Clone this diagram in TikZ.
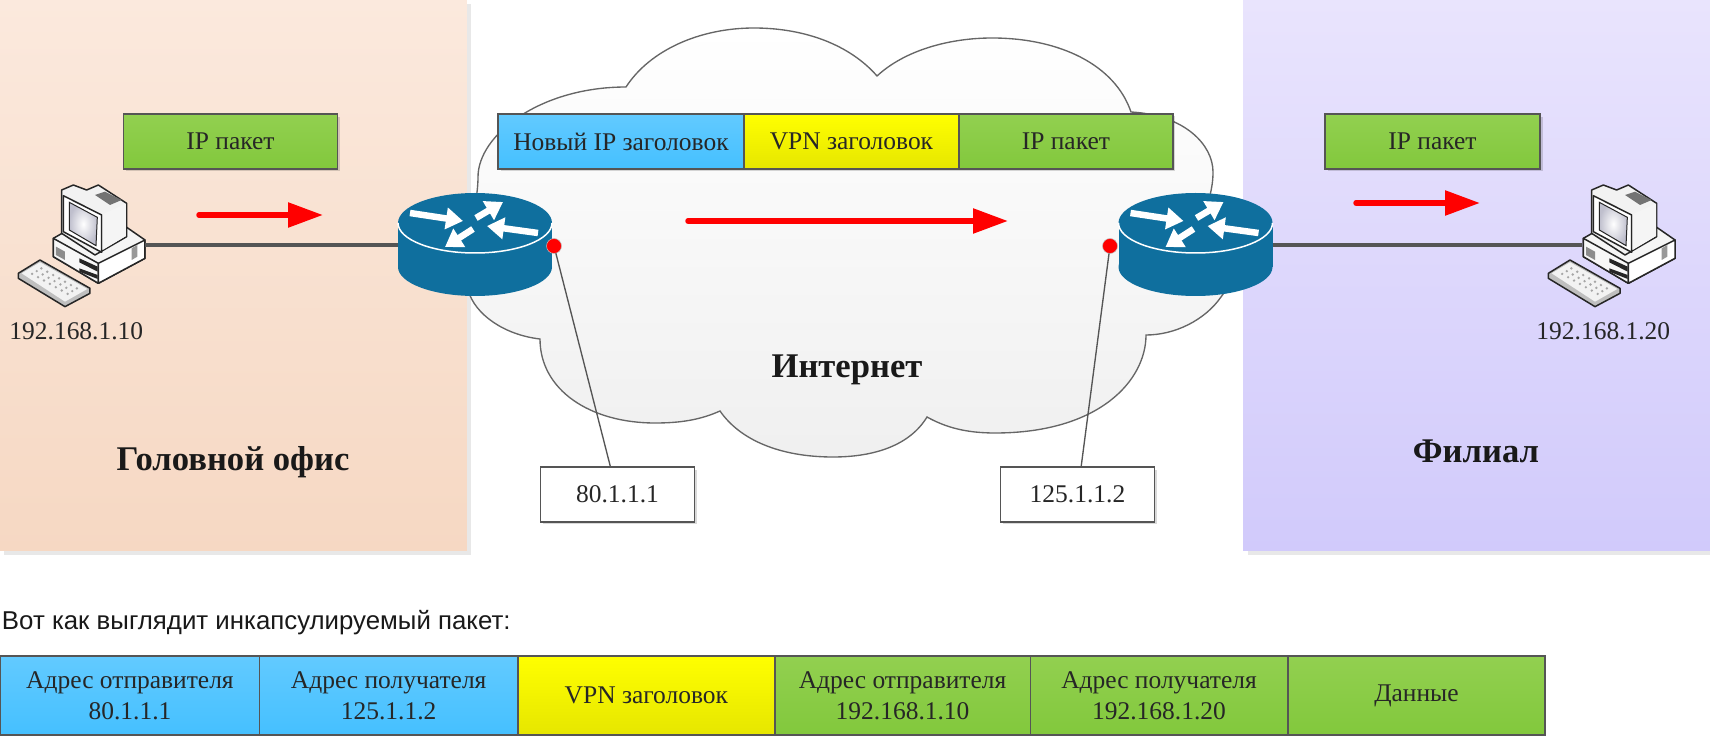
\documentclass[tikz,border=0pt]{standalone}
\usepackage{fontspec}
\setmainfont{Liberation Serif}
\setsansfont{Liberation Sans}
\usepackage{xcolor}
\usetikzlibrary{positioning,arrows.meta,shadows}

\definecolor{boxline}{HTML}{555555}
\definecolor{routerblue}{HTML}{0F6F9E}
\definecolor{blueA}{HTML}{62CAFF}
\definecolor{blueB}{HTML}{45C0FF}
\definecolor{yellowA}{HTML}{FFFF00}
\definecolor{yellowB}{HTML}{E6E600}
\definecolor{greenA}{HTML}{92D050}
\definecolor{greenB}{HTML}{82C83C}
\definecolor{officeA}{HTML}{FBE9DD}
\definecolor{officeB}{HTML}{F6D8C3}
\definecolor{branchA}{HTML}{E9E4FD}
\definecolor{branchB}{HTML}{D1CAFB}

\tikzset{
    softshadow/.style={drop shadow={shadow xshift=0.05cm, shadow yshift=-0.05cm, opacity=0.15, fill=black}},
    panelshadow/.style={drop shadow={shadow xshift=0.09cm, shadow yshift=-0.09cm, opacity=0.09, fill=black}},
    label text/.style={font=\fontsize{14.5}{17.6}\selectfont, align=center, text=black!85},
    head text/.style={font=\fontsize{19.7}{23}\selectfont\bfseries, text=black!90},
    pktbox/.style={rectangle, draw=boxline, line width=0.03cm, minimum height=1.1cm, inner sep=0pt, label text, softshadow},
    cellbox/.style={rectangle, draw=boxline, line width=0.03cm, minimum height=1.58cm, inner sep=0pt, label text},
    bluefill/.style={top color=blueA, bottom color=blueB},
    yellowfill/.style={top color=yellowA, bottom color=yellowB},
    greenfill/.style={top color=greenA, bottom color=greenB},
    addrbox/.style={rectangle, draw=boxline, line width=0.03cm, fill=white, minimum width=3.08cm, minimum height=1.1cm, inner sep=0pt, label text, softshadow},
    panel/.style={rectangle, minimum height=11.02cm, inner sep=0pt, panelshadow},
    flow/.style={red, line width=0.11cm, line cap=round, -{Triangle[length=0.7cm,width=0.48cm]}},
    link/.style={boxline, line width=0.065cm},
    leader/.style={boxline, line width=0.027cm},
    portdot/.style={circle, fill=red, draw=black!25, line width=0.01cm, minimum size=0.3cm, inner sep=0pt},
    router arrow/.style={white, line width=0.13cm, -{Triangle[length=0.34cm,width=0.42cm]}},
    pcline/.style={draw=black!85, line width=0.03cm, line join=round},
}

% router drawn round its centre
\newcommand{\router}[2]{
    \begin{scope}[shift={(#2)}]
        \node [rectangle, minimum width=3.08cm, minimum height=2.04cm, inner sep=0pt] (#1) at (0,0) {};
        \fill [routerblue] (-77,-22) rectangle (77,22);
        \fill [routerblue] (0,22) ellipse [x radius=77, y radius=29];
        \fill [routerblue] (0,-22) ellipse [x radius=77, y radius=30];
        \draw [white, line width=0.03cm] (-77,-22) .. controls (-77,-5.4) and (-42.5,8) .. (0,8) .. controls (42.5,8) and (77,-5.4) .. (77,-22);
        \draw [router arrow] (-65,-32) -- (-12,-24);
        \draw [router arrow] (1,-27) -- (28,-43);
        \draw [router arrow] (63,-12) -- (12,-19);
        \draw [router arrow] (-2,-16) -- (-30,2);
    \end{scope}
}

% computer, local units are a third of a pixel
\newcommand{\computer}[2]{
    \begin{scope}[shift={(#2)}]
        \node [rectangle, minimum width=1.87cm, minimum height=1.5cm, inner sep=0pt] (#1) at (88.3,70) {};
        \begin{scope}[x=0.00667cm, y=-0.00667cm]
            % base
            \draw [pcline, fill=black!4] (130,190) -- (200,150) -- (340,150) -- (405,195) -- (405,250) -- (265,325) -- (130,245) -- cycle;
            \draw [pcline, fill=black!3] (130,190) -- (265,265) -- (265,325) -- (130,245) -- cycle;
            \draw [pcline, fill=white] (265,265) -- (405,195) -- (405,250) -- (265,325) -- cycle;
            \fill [black!45] (138,215) -- (165,230) -- (165,255) -- (138,240) -- cycle;
            \fill [black!40] (365,220) -- (382,210) -- (382,245) -- (365,255) -- cycle;
            \fill [black!85] (208,250) -- (263,275) -- (263,290) -- (208,262) -- cycle;
            \fill [black!85] (208,280) -- (263,300) -- (263,312) -- (208,290) -- cycle;
            % monitor
            \draw [pcline, fill=black!5] (155,45) -- (190,30) -- (230,45) -- (265,30) -- (350,85) -- (350,185) -- (255,240) -- (155,175) -- cycle;
            \draw [pcline, fill=white] (160,62) -- (275,120) -- (275,232) -- (160,170) -- cycle;
            \fill [black!4] (278,118) -- (348,86) -- (348,183) -- (278,225) -- cycle;
            \draw [black!85, line width=0.02cm, inner color=white, outer color=blue!22!black!25] (178,82) -- (262,127) -- (258,212) -- (178,165) -- cycle;
            \fill [black!55] (255,60) -- (285,50) -- (335,75) -- (300,90) -- cycle;
            % keyboard
            \draw [pcline, fill=black!25] (25,295) -- (90,255) -- (240,340) -- (240,355) -- (165,395) -- (25,310) -- cycle;
            \fill [black!5] (35,295) -- (90,262) -- (232,342) -- (165,380) -- cycle;
            \foreach \i in {1,...,7}
                \foreach \j in {1,2,3}
                    \fill [black!35] ({90+\i*17.75-\j*13.75},{262+\i*10+\j*8.25}) circle [radius=4];
        \end{scope}
    \end{scope}
}

\begin{document}
\begin{tikzpicture}[x=0.02cm, y=-0.02cm, node distance=0cm, outer sep=0pt]
    \useasboundingbox (0,0) rectangle (1710,736);

    % sites
    \node [panel, minimum width=9.34cm, top color=officeA, bottom color=officeB, anchor=north west] (office) at (0,0) {};
    \node [panel, minimum width=9.34cm, top color=branchA, bottom color=branchB, anchor=north west] (branch) at (1243,0) {};

    % cloud
    \draw [black!60, line width=0.027cm, top color=white, bottom color=black!6]
        (626,87) .. controls (650,50) and (700,28) .. (754,28) .. controls (805,28) and (850,45) .. (877,76)
        .. controls (905,50) and (950,38) .. (992,38) .. controls (1060,38) and (1115,65) .. (1131,112)
        .. controls (1185,115) and (1213,145) .. (1213,172) .. controls (1213,190) and (1208,200) .. (1205,215)
        .. controls (1235,240) and (1235,280) .. (1221,297) .. controls (1205,320) and (1175,335) .. (1146,335)
        .. controls (1146,380) and (1100,433) .. (995,433) .. controls (965,433) and (945,427) .. (927,417)
        .. controls (910,445) and (875,457) .. (833,457) .. controls (780,457) and (740,440) .. (720,411)
        .. controls (700,420) and (680,423) .. (655,423) .. controls (590,423) and (540,390) .. (540,339)
        .. controls (505,335) and (475,315) .. (468,290) .. controls (460,260) and (478,210) .. (478,177)
        .. controls (478,135) and (540,87) .. (626,87) -- cycle;

    \node [head text] (cloudname) at (847,370) {Интернет};
    \node [head text] (officename) at (233,462) {Головной офис};
    \node [head text] (branchname) at (1476,451) {Филиал};

    % routers and computers
    \computer{pc1}{10,175}
    \computer{pc2}{1540,175}
    \router{r1}{475,245}
    \router{r2}{1195.5,245}

    \draw [link] (pc1) -- (r1);
    \draw [link] (r2) -- (pc2);

    \node [label text, below=0.68cm of pc1, xshift=-0.44cm] (pc1name) {192.168.1.10};
    \node [label text, below=0.68cm of pc2, xshift=-0.5cm] (pc2name) {192.168.1.20};

    % outer addresses
    \node [portdot] (dot1) at (554,246) {};
    \node [portdot] (dot2) at (1110,246) {};
    \node [addrbox] (addr1) at (617.5,494.5) {80.1.1.1};
    \node [addrbox] (addr2) at (1077.5,494.5) {125.1.1.2};
    \draw [leader] (dot1) -- (addr1);
    \draw [leader] (dot2) -- (addr2);

    % packets
    \node [pktbox, greenfill, minimum width=4.28cm] (pkt1) at (230.5,141.5) {IP пакет};
    \node [pktbox, greenfill, minimum width=4.3cm] (pkt3) at (1432.5,141.5) {IP пакет};
    \node [pktbox, bluefill, minimum width=4.92cm, anchor=north west] (newhdr) at (498,114) {Новый IP заголовок};
    \node [pktbox, yellowfill, minimum width=4.3cm, right=of newhdr] (vpnhdr) {VPN заголовок};
    \node [pktbox, greenfill, minimum width=4.28cm, right=of vpnhdr] (pkt2) {IP пакет};

    % flow
    \coordinate (a1) at (199,215);
    \coordinate (b1) at (323,215);
    \coordinate (a2) at (688,221);
    \coordinate (b2) at (1008,221);
    \coordinate (a3) at (1356,203);
    \coordinate (b3) at (1480,203);
    \draw [flow] (a1) -- (b1);
    \draw [flow] (a2) -- (b2);
    \draw [flow] (a3) -- (b3);

    \node [anchor=west, inner sep=0pt, font=\sffamily\fontsize{14.7}{17}\selectfont, text=black!90] (caption) at (2,623) {Вот как выглядит инкапсулируемый пакет:};

    % encapsulated packet
    \node [cellbox, bluefill, minimum width=5.18cm, anchor=north west] (c0) at (0.5,656) {Адрес отправителя\\80.1.1.1};
    \node [cellbox, bluefill, minimum width=5.17cm, right=of c0] (c1) {Адрес получателя\\125.1.1.2};
    \node [cellbox, yellowfill, minimum width=5.14cm, right=of c1] (c2) {VPN заголовок};
    \node [cellbox, greenfill, minimum width=5.11cm, right=of c2] (c3) {Адрес отправителя\\192.168.1.10};
    \node [cellbox, greenfill, minimum width=5.15cm, right=of c3] (c4) {Адрес получателя\\192.168.1.20};
    \node [cellbox, greenfill, minimum width=5.15cm, right=of c4] (c5) {Данные};
\end{tikzpicture}
\end{document}
